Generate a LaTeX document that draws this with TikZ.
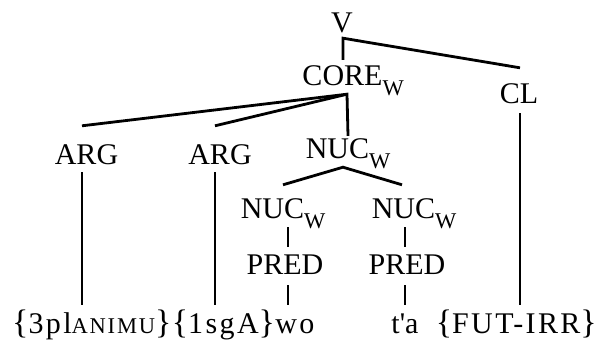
\documentclass[tikz,border=0pt]{standalone}
\usepackage{fontspec}
\setmainfont{Liberation Serif}
\usetikzlibrary{calc,positioning}
\newcommand{\subW}{\rlap{\raisebox{-10pt}{\fontsize{22.5}{26}\selectfont W}}}
\newcommand{\smcap}[1]{{\fontsize{22.5}{26}\selectfont #1}}
\newcommand{\lbr}{{\fontsize{34}{36}\selectfont\{}}
\newcommand{\rbr}{{\fontsize{34}{36}\selectfont\}}}
\tikzset{
	cat/.style={inner sep=0pt,text height=20pt,text depth=0pt,anchor=base,
		font=\fontsize{30}{36}\selectfont},
	word/.style={cat,font=\fontsize{30}{36}\selectfont\addfontfeature{LetterSpace=8}},
	branch/.style={line width=2.8pt}
}

\begin{document}
\begin{tikzpicture}[x=1pt,y=-1pt]
\useasboundingbox (0,0) rectangle (597,343);

\node[cat] (V) at (342,32) {V};
\node[cat] (core) at (342.5,85) {CORE\subW};
\node[cat] (cl) at (519,103) {CL};
\node[cat] (arg1) at (86.5,164) {ARG};
\node[cat] (arg2) at (220,164) {ARG};
\node[cat] (nuc) at (337.5,158) {NUC\subW};
\node[cat] (nucl) at (272.5,218) {NUC\subW};
\node[cat] (nucr) at (403.5,218) {NUC\subW};
\node[cat] (predl) at (285,274) {PRED};
\node[cat] (predr) at (407,274) {PRED};

\node[word,anchor=base west] (w3pl) at (12,333) {\lbr3pl\smcap{ANIMU}\rbr};
\node[word,base right=0pt of w3pl] (w1sg) {\lbr1sgA\rbr};
\node[word,base right=0pt of w1sg] (wwo) {wo};
\node[word] (wta) at (405,333) {t\textquotesingle a};
\node[word,anchor=base east] (wfut) at (597,333) {\lbr FUT-IRR\rbr};

\draw[branch] ($(core.north)+(0.5,-5)$) -- ($(V.south)+(1,6)$) -- ($(cl.north)+(1,-15)$);
\draw[branch] ($(arg1.north)+(-4.5,-18)$) -- ($(core.south)+(4.5,9)$) -- ($(nuc.north)+(10.5,-2)$);
\draw[branch] ($(arg2.north)+(-5,-18)$) -- ($(core.south)+(4.5,9)$);
\draw[branch] ($(nucl.north)+(10.5,-13)$) -- ($(nuc.south)+(5.5,9)$) -- ($(nucr.north)+(-1.5,-13)$);
\draw[branch] ($(nucl.south)+(15.5,9)$) -- ($(predl.north)+(3,-7)$);
\draw[branch] ($(nucr.south)+(1.5,9)$) -- ($(predr.north)+(-2,-7)$);
\draw[branch] ($(predl.south)+(3,11)$) -- ++(0,20);
\draw[branch] ($(predr.south)+(-2,11)$) -- ++(0,20);
\draw[branch] ($(arg1.south)+(-4.5,8)$) -- ++(0,133);
\draw[branch] ($(arg2.south)+(-5,8)$) -- ++(0,133);
\draw[branch] ($(cl.south)+(1,10)$) -- ++(0,192);

\end{tikzpicture}
\end{document}
